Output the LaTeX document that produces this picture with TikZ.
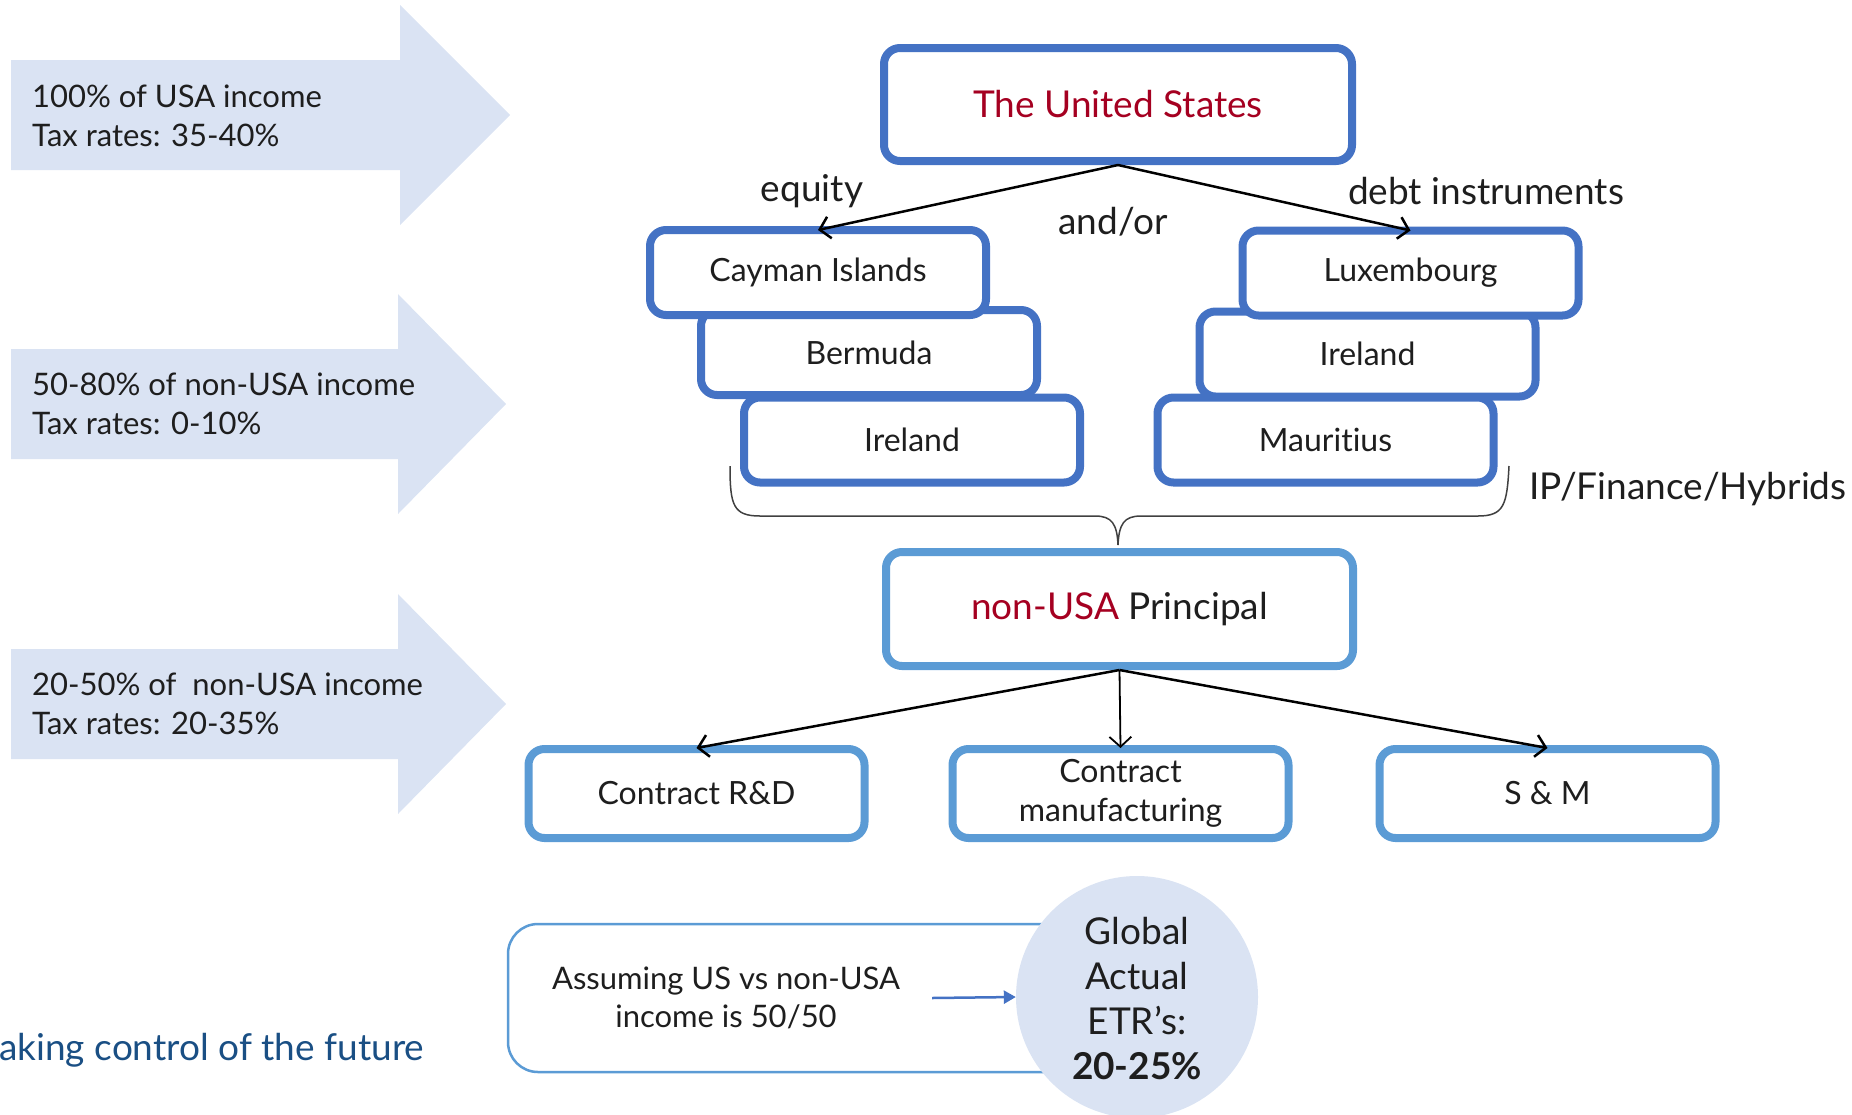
\documentclass[tikz,border=0pt]{standalone}
\usepackage{fontspec}
\setmainfont{Lato}[Ligatures={NoCommon}]
\usetikzlibrary{arrows.meta}
\definecolor{bxblue}{HTML}{4472C4}
\definecolor{ltblue}{HTML}{5B9BD5}
\definecolor{pale}{HTML}{DAE3F3}
\definecolor{usred}{HTML}{A50021}
\definecolor{navy}{HTML}{1A4F84}
\definecolor{txt}{HTML}{1E1E1E}
\begin{document}
\begin{tikzpicture}[x=1pt,y=-1pt,
  bigarrow/.style={fill=pale, draw=none},
  arrtext/.style={anchor=west, align=left, inner sep=0pt, text=txt, font=\fontsize{31}{39}\selectfont},
  bx/.style={draw=bxblue, line width=8pt, rounded corners=16pt, fill=white,
    minimum width=336pt, minimum height=85pt, align=center, text=txt,
    font=\fontsize{32}{39}\selectfont},
  lbx/.style={bx, draw=ltblue},
  conn/.style={line width=2.5pt, draw=black, -{Straight Barb[length=10pt,width=22pt]}},
  lbl/.style={text=txt, inner sep=0pt, font=\fontsize{37}{44}\selectfont}]
\useasboundingbox (0,0) rectangle (1852,1114);

% big left arrows
\fill[bigarrow] (11,60) -- (400,60) -- (400,5) -- (510,115) -- (400,225) -- (400,170) -- (11,170) -- cycle;
\fill[bigarrow] (11,349) -- (398,349) -- (398,294) -- (506,404) -- (398,514) -- (398,459) -- (11,459) -- cycle;
\fill[bigarrow] (11,649) -- (398,649) -- (398,594) -- (506,704) -- (398,814) -- (398,759) -- (11,759) -- cycle;
\node[arrtext] (a1) at (32,115.5) {100\% of USA income\\Tax rates: 35-40\%};
\node[arrtext] (a2) at (32,404) {50-80\% of non-USA income\\Tax rates: 0-10\%};
\node[arrtext] (a3) at (32,704) {20-50\% of\ \ non-USA income\\Tax rates: 20-35\%};

% top box
\node[bx, minimum width=468pt, minimum height=113pt, text=usred,
      font=\fontsize{37}{44}\selectfont] (us) at (1118,104.5) {The United States};

% left stack
\node[bx] (irel) at (912,440) {Ireland};
\node[bx] (ber) at (869,352.5) {Bermuda};
\node[bx] (cay) at (818,272.5) {Cayman Islands};
% right stack
\node[bx] (mau) at (1325.5,440) {Mauritius};
\node[bx] (irer) at (1367.5,354) {Ireland};
\node[bx] (lux) at (1410.5,273) {Luxembourg};

\draw[conn] (us.south) -- ([yshift=-4pt]cay.north);
\draw[conn] (us.south) -- ([yshift=-4pt]lux.north);
\node[lbl] (eq) at (812,191) {equity};
\node[lbl] (andor) at (1113,222) {and/or};
\node[lbl] (debt) at (1486,191) {debt instruments};

% brace
\draw[line width=1.5pt, draw=black!75]
  (730,466) .. controls (730,505) and (733,516) .. (760,516) -- (1095,516)
  .. controls (1112,516) and (1117,524) .. (1118,545)
  .. controls (1119,524) and (1124,516) .. (1141,516) -- (1478,516)
  .. controls (1504,516) and (1507,505) .. (1509,466);
\node[lbl, anchor=west] (ip) at (1529,489) {IP/Finance/Hybrids};

% principal
\node[lbx, minimum width=467pt, minimum height=114pt,
      font=\fontsize{37}{44}\selectfont] (prin) at (1119.5,609)
  {\textcolor{usred}{non-USA} Principal};

\node[lbx, minimum height=89pt] (rd) at (696.5,793.5) {Contract R\&D};
\node[lbx, minimum height=89pt] (man) at (1120.5,793.5) {Contract\\manufacturing};
\node[lbx, minimum height=89pt] (sm) at (1547.5,793.5) {S \& M};

\draw[conn] (prin.south) -- ([yshift=-3pt]rd.north);
\draw[conn, line width=1.8pt] (prin.south) -- ([yshift=-3pt]man.north);
\draw[conn] (prin.south) -- ([yshift=-3pt]sm.north);

% bottom
\node[draw=ltblue, line width=2.5pt, rounded corners=30pt, minimum width=590pt,
      minimum height=148pt] (frame) at (803,998) {};
\node[circle, fill=pale, minimum size=242pt, inner sep=0pt] (glob) at (1137,997) {};
\node[align=center, text=txt, inner sep=0pt, font=\fontsize{37}{45}\selectfont] (globtxt) at (1137,998.5)
  {Global\\Actual\\ETR’s:\\\textbf{20-25\%}};
\node[align=center, text=txt, inner sep=0pt, font=\fontsize{31}{38}\selectfont] (assume) at (726,998)
  {Assuming US vs non-USA\\income is 50/50};
\coordinate (arrs) at (932,998);
\draw[line width=2.5pt, draw=bxblue, -{Triangle[length=12pt,width=13pt]}] (arrs) -- (glob.west);

\node[anchor=west, inner sep=0pt, text=navy, font=\fontsize{37}{44}\selectfont] (future) at (-1,1050)
  {aking control of the future};
\end{tikzpicture}
\end{document}
